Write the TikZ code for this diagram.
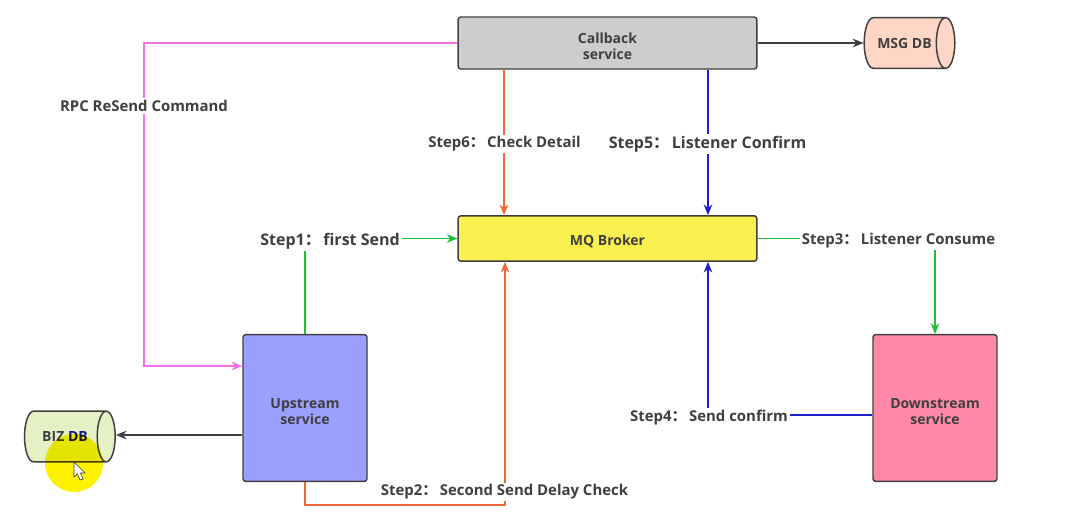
\documentclass[tikz,border=0pt]{standalone}
\usepackage{fontspec}
\setmainfont{Open Sans}
\newfontfamily\cjk{Noto Sans CJK SC}
\usetikzlibrary{arrows.meta,shapes.geometric}
\definecolor{inkgray}{HTML}{3F3F3F}
\definecolor{callbackfill}{HTML}{CDCDCD}
\definecolor{brokerfill}{HTML}{FAF050}
\definecolor{upfill}{HTML}{9BA0FF}
\definecolor{downfill}{HTML}{FF88A8}
\definecolor{msgfill}{HTML}{FFD5C5}
\definecolor{bizfill}{HTML}{E5F0C5}
\definecolor{sendgreen}{HTML}{1FBF35}
\definecolor{checkorange}{HTML}{F0683A}
\definecolor{confirmblue}{HTML}{2020D0}
\definecolor{rpcpink}{HTML}{F070E8}
\newcommand{\stepcolon}{{\cjk ：}\,}
\newcommand{\toppad}{\rule{0pt}{13pt}}
\tikzset{
  x=0.75pt,y=-0.75pt,
  svcbox/.style={draw=inkgray,line width=1.1pt,rounded corners=2pt,align=center,
    font=\bfseries\fontsize{10.5}{12}\selectfont,text=inkgray,inner sep=0pt},
  dbbox/.style={cylinder,draw=inkgray,line width=1.1pt,shape aspect=1.8,
    minimum width=38pt,minimum height=68pt,inner sep=0pt,
    font=\bfseries\fontsize{10.5}{12}\selectfont,text=inkgray},
  steplabel/.style={fill=white,font=\bfseries\fontsize{11.2}{13}\selectfont,text=inkgray,inner sep=1.5pt},
  biglabel/.style={steplabel,font=\bfseries\fontsize{12}{14}\selectfont},
  link/.style={line width=1pt,-{Stealth[length=8pt,width=6.5pt]}},
}
\begin{document}
\begin{tikzpicture}
  \useasboundingbox[fill=white] (0,0) rectangle (1067,525);
  \node[svcbox,fill=callbackfill,minimum width=224pt,minimum height=39pt] (callback) at (607.5,43) {\toppad Callback\\service};
  \node[svcbox,fill=brokerfill,minimum width=224pt,minimum height=34pt] (broker) at (607.5,238.5) {\toppad MQ Broker};
  \node[svcbox,fill=upfill,minimum width=93pt,minimum height=110pt] (upstream) at (305,408) {\toppad Upstream\\service};
  \node[svcbox,fill=downfill,minimum width=93pt,minimum height=110pt] (downstream) at (935,408) {\toppad Downstream\\service};
  \node[dbbox,fill=msgfill] (msgdb) at (904.5,43) {MSG DB};
  \node[dbbox,fill=bizfill] (bizdb) at (65,436.5) {BIZ {\color{confirmblue!70!black}DB}\hspace{5pt}};
  % mouse highlight and pointer
  \fill[yellow,blend mode=multiply] (74,463) circle (29);
  \filldraw[fill=white,draw=inkgray,line width=0.5pt] (74,462) -- (74,477) -- (77.5,474) -- (80,480) -- (83,479) -- (80.5,473) -- (85,473) -- cycle;
  % attachment points on the boxes
  \coordinate (checkx) at (504,0);
  \coordinate (listenx) at (708,0);
  \coordinate (delayx) at (505,505);
  \coordinate (rpcbend) at (144,366);
  \coordinate (confirmy) at (0,415);
  \coordinate (bizy) at (0,435);
  % connectors
  \draw[link,inkgray] (callback.east) -- (msgdb.west);
  \draw[link,inkgray] (upstream.west |- bizy) -- (bizdb.east |- bizy);
  \draw[link,sendgreen] (upstream.north) |- (broker.west);
  \draw[link,checkorange] (upstream.south) |- (delayx) -- (broker.south -| delayx);
  \draw[link,sendgreen] (broker.east) -| (downstream.north);
  \draw[link,confirmblue] (downstream.west |- confirmy) -| (broker.south -| listenx);
  \draw[link,confirmblue] (callback.south -| listenx) -- (broker.north -| listenx);
  \draw[link,checkorange] (callback.south -| checkx) -- (broker.north -| checkx);
  \draw[link,rpcpink] (callback.west) -| (rpcbend) -- (upstream.west |- rpcbend);
  % labels sit on top of the lines
  \node[biglabel] (step1) at (330,241) {Step1\stepcolon first Send};
  \node[steplabel] (step2) at (504.5,492) {Step2\stepcolon Second Send Delay Check};
  \node[steplabel] (step3) at (898.5,241) {Step3\stepcolon Listener Consume};
  \node[steplabel] (step4) at (709,418) {Step4\stepcolon Send confirm};
  \node[biglabel] (step5) at (707.5,144) {Step5\stepcolon Listener Confirm};
  \node[steplabel] (step6) at (504.5,144) {Step6\stepcolon Check Detail};
  \node[steplabel] (rpclabel) at (144,106) {RPC ReSend Command};
\end{tikzpicture}
\end{document}
